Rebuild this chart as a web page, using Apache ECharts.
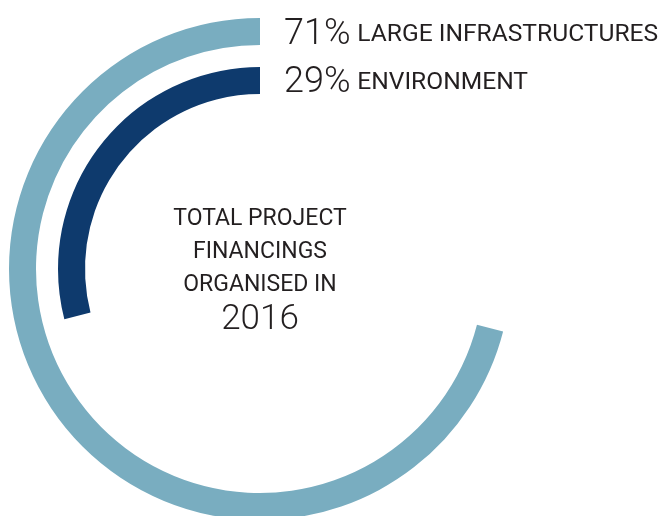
<!DOCTYPE html>
<html>
<head>
<meta charset="utf-8">
<script src="https://cdn.jsdelivr.net/npm/echarts@6/dist/echarts.min.js"></script>
<style>
  html, body { margin: 0; padding: 0; background: #fff; }
  #chart { width: 665px; height: 516px; }
</style>
</head>
<body>
<div id="chart"></div>
<script>
// data
const categories = ['LARGE INFRASTRUCTURES', 'ENVIRONMENT']
const shares = [71, 29]
const centreLines = ['TOTAL PROJECT', 'FINANCINGS', 'ORGANISED IN']
const year = '2016'

const colors = ['#79adc0', '#0e3a6d']
const rings = [[224, 251], [175, 202]]
const textColor = '#231f20'
const font = 'Roboto'

const chart = echarts.init(document.getElementById('chart'))

// one ring per category, the rest of the circle left blank
const series = categories.map((name, i) => ({
  type: 'pie',
  center: [260, 269],
  radius: rings[i],
  startAngle: 90,
  clockwise: false,
  silent: true,
  animation: false,
  label: { show: false },
  labelLine: { show: false },
  itemStyle: { borderWidth: 0 },
  data: [
    { name: name, value: shares[i], itemStyle: { color: colors[i] } },
    { name: '', value: 100 - shares[i], itemStyle: { color: 'rgba(0,0,0,0)' } }
  ]
}))

// labels at the start of each ring
const labels = categories.map((name, i) => ({
  type: 'text',
  left: 284,
  top: 17 + i * 48,
  style: {
    text: '{p|' + shares[i] + '%}  {n|' + name + '}',
    rich: {
      p: { fontFamily: font, fontWeight: 300, fontSize: 36, fill: textColor, color: textColor },
      n: { fontFamily: font, fontSize: 24.6, fill: textColor, color: textColor }
    }
  }
}))

const centre = centreLines.map((line, i) => ({
  type: 'text',
  x: 260,
  y: 208 + i * 33,
  style: {
    text: line,
    fontFamily: font,
    fontSize: 23,
    fill: textColor,
    align: 'center',
    verticalAlign: 'top'
  }
}))

centre.push({
  type: 'text',
  x: 260,
  y: 303,
  style: {
    text: year,
    fontFamily: font,
    fontWeight: 300,
    fontSize: 35,
    fill: textColor,
    align: 'center',
    verticalAlign: 'top'
  }
})

chart.setOption({
  backgroundColor: '#fff',
  series: series,
  graphic: labels.concat(centre)
})
</script>
</body>
</html>
